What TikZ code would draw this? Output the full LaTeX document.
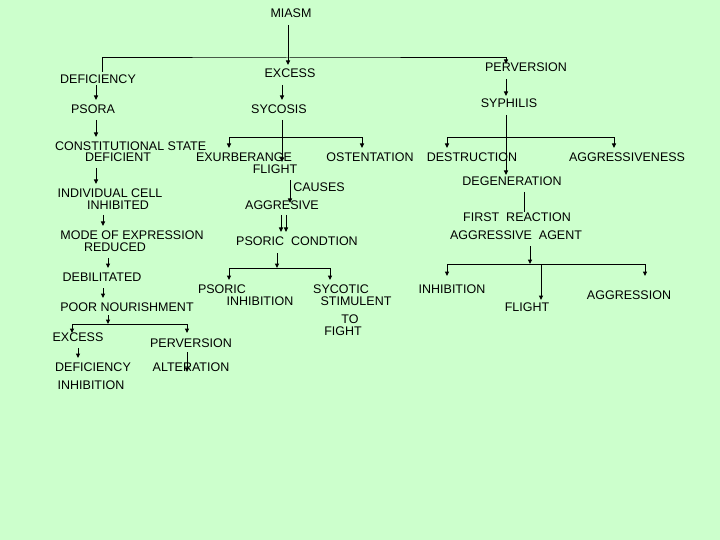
\documentclass[tikz,border=0pt]{standalone}
\usepackage{fontspec}
\setmainfont{Liberation Sans}
\usetikzlibrary{arrows.meta}
\definecolor{bg}{RGB}{204,255,204}
\begin{document}
\begin{tikzpicture}[x=1pt,y=-1pt,
  t/.style={inner sep=0pt,font=\fontsize{12.5}{12}\selectfont,align=center},
  ar/.style={-{Triangle[length=4.5pt,width=4pt]},line width=1pt},
  ln/.style={line width=1pt}]
\fill[bg] (0,0) rectangle (720,540);
\useasboundingbox (0,0) rectangle (720,540);
\node[t] (miasm) at (291,13) {MIASM};
\node[t] (def) at (98,79) {DEFICIENCY};
\node[t] (exc) at (290,73) {EXCESS};
\node[t] (perv) at (526,67) {PERVERSION};
\node[t] (psora) at (93,109) {PSORA};
\node[t] (syc) at (279,109) {SYCOSIS};
\node[t] (syph) at (509,103) {SYPHILIS};
\node[t,anchor=west] (const) at (55,146) {CONSTITUTIONAL STATE};
\node[t] (defi) at (118,157) {DEFICIENT};
\node[t] (exu) at (244,157) {EXURBERANGE};
\node[t] (fl1) at (275,169) {FLIGHT};
\node[t] (ost) at (370,157) {OSTENTATION};
\node[t] (des) at (472,157) {DESTRUCTION};
\node[t] (aggv) at (627,157) {AGGRESSIVENESS};
\node[t] (deg) at (512,181) {DEGENERATION};
\node[t] (cau) at (319,187) {CAUSES};
\node[t] (aggr) at (282,205) {AGGRESIVE};
\node[t] (ind) at (110,193) {INDIVIDUAL CELL};
\node[t] (inh1) at (118,205) {INHIBITED};
\node[t] (mode) at (132,235) {MODE OF EXPRESSION};
\node[t] (red) at (115,247) {REDUCED};
\node[t] (psc) at (297,241) {PSORIC\ \ CONDTION};
\node[t] (fr) at (517,217) {FIRST\ \ REACTION};
\node[t] (aga) at (516,235) {AGGRESSIVE\ \ AGENT};
\node[t] (deb) at (102,277) {DEBILITATED};
\node[t] (pso) at (222,289) {PSORIC};
\node[t] (inh2) at (260,301) {INHIBITION};
\node[t] (sycot) at (341,289) {SYCOTIC};
\node[t] (stim) at (356,301) {STIMULENT};
\node[t] (to) at (350,319) {TO};
\node[t] (fig) at (343,331) {FIGHT};
\node[t] (inh3) at (452,289) {INHIBITION};
\node[t] (fl2) at (527,307) {FLIGHT};
\node[t] (aggn) at (629,295) {AGGRESSION};
\node[t] (poor) at (127,307) {POOR NOURISHMENT};
\node[t] (exc2) at (78,337) {EXCESS};
\node[t] (perv2) at (191,343) {PERVERSION};
\node[t] (def2) at (93,367) {DEFICIENCY};
\node[t] (alt) at (191,367) {ALTERATION};
\node[t] (inh4) at (91,385) {INHIBITION};
% top
\draw[ar] (288,25) -- (288,65);
\draw[ar] (102,72) |- (288,58) -| (506,64);
\draw[ar] (96,85) -- (96,100);
\draw[ar] (282,85) -- (282,100);
\draw[ar] (506,79) -- (506,96);
\draw[ar] (96,120) -- (96,137);
\draw[ar] (282,120) -- (282,162);
\draw[ar] (282,138) -| (229,148);
\draw[ar] (282,138) -| (362,148);
\draw[ar] (506,115) -- (506,175);
\draw[ar] (506,138) -| (447,148);
\draw[ar] (506,138) -| (614,148);
\draw[ar] (96,168) -- (96,184);
\draw[ar] (290,180) -- (290,203);
\draw[ln] (524,192) -- (524,212);
\draw[ar] (281,215) -- (281,232);
\draw[ar] (286,215) -- (286,232);
\draw[ar] (103,215) -- (103,226);
\draw[ar] (108,258) -- (108,268);
\draw[ar] (277,253) -- (277,268);
\draw[ar] (277,268) -| (229,280);
\draw[ar] (277,268) -| (330,280);
\draw[ar] (530,246) -- (530,264);
\draw[ar] (530,264) -| (447,276);
\draw[ar] (530,264) -| (645,276);
\draw[ar] (541,264) -- (541,300);
\draw[ar] (103,288) -- (103,298);
\draw[ar] (108,315) -- (108,324);
\draw[ar] (108,324) -| (72,333);
\draw[ar] (108,324) -| (187,333);
\draw[ar] (78,348) -- (78,358);
\draw[ar] (187,352) -- (187,372);
\end{tikzpicture}
\end{document}
